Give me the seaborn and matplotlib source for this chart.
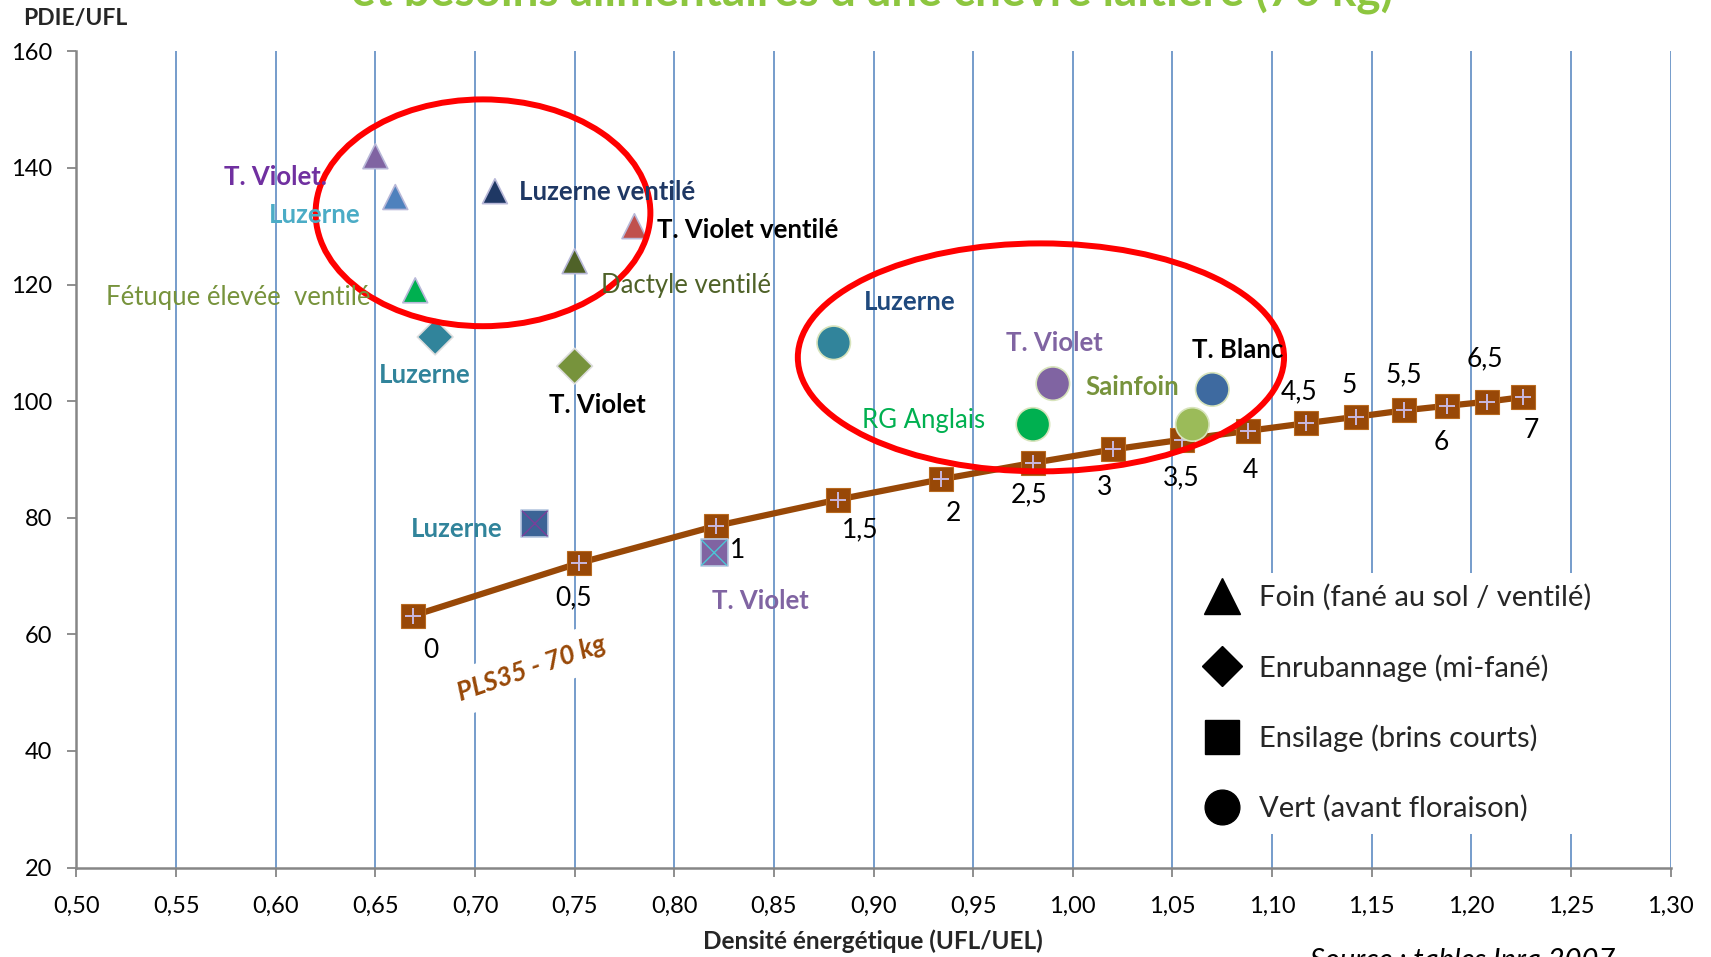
import matplotlib
matplotlib.use("Agg")
import matplotlib.pyplot as plt
from matplotlib.lines import Line2D
from matplotlib.patches import Ellipse
import seaborn as sns
import pandas as pd

# ---------------- data ----------------
# Forages (UFL/UEL, PDIE/UFL)
forage_names = ["T. Violet.", "Luzerne", "Luzerne ventilé", "T. Violet ventilé", "Dactyle ventilé",
                "Fétuque élevée  ventilé",
                "Luzerne", "T. Violet",
                "Luzerne", "T. Violet",
                "Luzerne", "T. Violet", "T. Blanc", "RG Anglais", "Sainfoin"]
forage_type = ["Foin"] * 6 + ["Enrubannage"] * 2 + ["Ensilage"] * 2 + ["Vert"] * 5
forage_x = [0.65, 0.66, 0.71, 0.78, 0.75, 0.67,
            0.68, 0.75,
            0.73, 0.82,
            0.88, 0.99, 1.07, 0.98, 1.06]
forage_y = [142, 135, 136, 130, 124, 119,
            111, 106,
            79, 74,
            110, 103, 102, 96, 96]
forage_colors = ["#8064A2", "#4F81BD", "#1F3864", "#C0504D", "#4F6228", "#00B050",
                 "#31849B", "#77933C",
                 "#3C6496", "#8064A2",
                 "#31849B", "#8064A2", "#3E6AA0", "#00B050", "#9BBB59"]
label_colors = ["#7030A0", "#4BACC6", "#1F3864", "#000000", "#4F6228", "#77933C",
                "#31849B", "#000000",
                "#31849B", "#8064A2",
                "#1F497D", "#8064A2", "#000000", "#00B050", "#77933C"]
label_bold = [True, True, True, True, False, False,
              True, True,
              True, True,
              True, True, True, False, True]
# label anchor positions (text placement)
label_x = [0.5997, 0.6194, 0.7223, 0.7913, 0.7634, 0.6478,
           0.6747, 0.7612,
           0.6906, 0.8433,
           0.9183, 0.9906, 1.0826, 0.9249, 1.0300]
label_y = [138.5, 131.9, 135.9, 129.3, 119.8, 117.7,
           104.4, 99.4,
           78.0, 65.7,
           117.0, 110.0, 108.7, 96.7, 102.4]
label_ha = ["center", "center", "left", "left", "left", "right",
            "center", "center",
            "center", "center",
            "center", "center", "center", "center", "center"]

# Requirement curve PLS35 - 70 kg (milk kg/day)
pls_labels = ["0", "0,5", "1", "1,5", "2", "2,5", "3", "3,5", "4", "4,5", "5", "5,5", "6", "6,5", "7"]
pls_x = [0.669, 0.752, 0.821, 0.882, 0.934, 0.980, 1.020, 1.055, 1.088, 1.117, 1.142, 1.166, 1.188, 1.208, 1.226]
pls_y = [63.2, 72.2, 78.6, 83.1, 86.6, 89.4, 91.7, 93.4, 94.9, 96.2, 97.3, 98.4, 99.2, 99.9, 100.7]
pls_offsets = [(16, -32), (-5, -32), (20, -23), (21, -28), (11, -31), (-4, -29), (-7, -35), (-1, -35),
               (2, -36), (-6, 29), (-6, 29), (0, 33), (-6, -34), (-2, 39), (7, -31)]

# highlight ellipses (center x, center y, width, height)
ellipses = [(0.704, 132.3, 0.168, 38.9), (0.984, 107.5, 0.244, 39.1)]

legend_labels = ["Foin (fané au sol / ventilé)", "Enrubannage (mi-fané)",
                 "Ensilage (brins courts)", "Vert (avant floraison)"]

x_ticks = [0.50, 0.55, 0.60, 0.65, 0.70, 0.75, 0.80, 0.85, 0.90, 0.95, 1.00, 1.05, 1.10, 1.15, 1.20, 1.25, 1.30]
y_ticks = [20, 40, 60, 80, 100, 120, 140, 160]

# ---------------- style ----------------
sns.set_theme(style="white")
FONT = ["Lato", "DejaVu Sans"]
plt.rcParams["font.family"] = FONT

fig = plt.figure(figsize=(17.11, 9.57), dpi=100)
ax = fig.add_axes([0.0447, 0.0935, 0.9317, 0.8529])

df = pd.DataFrame({"x": forage_x, "y": forage_y, "type": forage_type,
                   "id": [f"p{i}" for i in range(len(forage_x))]})
palette = dict(zip(df["id"], forage_colors))

marker_map = {"Foin": "^", "Enrubannage": "D", "Ensilage": "s", "Vert": "o"}
size_map = {"Foin": 320, "Enrubannage": 330, "Ensilage": 380, "Vert": 580}
edge_map = {"Foin": "#B8B8D8", "Enrubannage": "#DDDDDD", "Ensilage": "#B8C8E0", "Vert": "#D8E4BC"}

# requirement curve
pls_df = pd.DataFrame({"x": pls_x, "y": pls_y})
sns.lineplot(data=pls_df, x="x", y="y", ax=ax, color="#984807", lw=4.5, sort=False,
             marker="s", markersize=17, markeredgecolor="#B8691E", markeredgewidth=0.8, zorder=4)
sns.scatterplot(data=pls_df, x="x", y="y", ax=ax, marker="+", s=140, color="#C9B8DE",
                linewidth=1.4, zorder=5)

for t, sub in df.groupby("type", sort=False):
    sns.scatterplot(data=sub, x="x", y="y", hue="id", palette=palette, ax=ax,
                    marker=marker_map[t], s=size_map[t], edgecolor=edge_map[t],
                    linewidth=1.2, legend=False, zorder=6)

# crosses on silage squares
ens = df[df["type"] == "Ensilage"]
cross_cols = {ens["id"].iloc[0]: "#7A3F9A", ens["id"].iloc[1]: "#4BC6D6"}
sns.scatterplot(data=ens, x="x", y="y", hue="id", palette=cross_cols, ax=ax, marker="x",
                s=340, linewidth=1.0, legend=False, zorder=7)

# ellipses
for cx, cy, w, h in ellipses:
    ax.add_patch(Ellipse((cx, cy), w, h, fill=False, edgecolor="#FF0000", lw=4.3, zorder=8))

# forage labels
for name, lx, ly, c, b, ha in zip(forage_names, label_x, label_y, label_colors, label_bold, label_ha):
    ax.text(lx, ly, name, color=c, fontsize=18.5, fontweight="bold" if b else "normal",
            ha=ha, va="center", zorder=9)

# curve labels
for lab, px, py, (dx, dy) in zip(pls_labels, pls_x, pls_y, pls_offsets):
    ax.annotate(lab, (px, py), xytext=(dx * 0.786, dy * 0.786), textcoords="offset points",
                ha="center", va="center", fontsize=19, color="black", zorder=9)

ax.text(0.7283, 54.1, "PLS35 - 70 kg", rotation=19, color="#984807", fontsize=19,
        fontweight="bold", style="italic", ha="center", va="center", zorder=9,
        bbox=dict(facecolor="white", edgecolor="none", pad=8))

# axes
ax.set_xlim(0.50, 1.30)
ax.set_ylim(20, 160)
ax.set_xticks(x_ticks)
ax.set_yticks(y_ticks)
ax.set_xticklabels([f"{v:.2f}".replace(".", ",") for v in x_ticks])
ax.set_yticklabels([str(v) for v in y_ticks])
ax.tick_params(axis="both", labelsize=17, labelcolor="black", length=6.5, width=1.3,
               direction="out", bottom=True, left=True, color="#868686")
ax.tick_params(axis="x", pad=14)
ax.tick_params(axis="y", pad=11)
ax.grid(axis="x", color="#4F81BD", lw=1.1, zorder=0)
ax.grid(axis="y", visible=False)
ax.set_axisbelow(True)
for s in ["top", "right"]:
    ax.spines[s].set_visible(False)
for s in ["left", "bottom"]:
    ax.spines[s].set_color("#868686")
    ax.spines[s].set_linewidth(1.8)
ax.set_xlabel("")
ax.set_ylabel("")

fig.text(873 / 1711, 1 - 941 / 957, "Densité énergétique (UFL/UEL)", ha="center", va="center",
         fontsize=17.5, fontweight="bold")
fig.text(75 / 1711, 1 - 19 / 957, "PDIE/UFL", ha="center", va="center", fontsize=16.5,
         fontweight="bold")
fig.text(872 / 1711, 1 - 5 / 957, "et besoins alimentaires d'une chèvre laitière (70 kg)",
         ha="center", va="baseline", fontsize=33, fontweight="bold", color="#8DC63F")
fig.text(1463 / 1711, 1 - 969 / 957, "Source : tables Inra 2007", ha="center", va="baseline",
         fontsize=21, style="italic", color="black")

# legend
handles = [Line2D([], [], ls="none", marker=m, color="black", markersize=ms)
           for m, ms in zip(["^", "D", "s", "o"], [26, 20, 24, 25])]
leg = ax.legend(handles, legend_labels, loc="upper left",
                bbox_to_anchor=(1180 / 1711, 1 - 558 / 957), bbox_transform=fig.transFigure,
                fontsize=21, frameon=True, facecolor="white", edgecolor="none", framealpha=1,
                labelspacing=1.47, handletextpad=0.72, borderpad=0.4, handlelength=1.1)
leg.set_zorder(10)

fig.savefig("out.png", dpi=100)
